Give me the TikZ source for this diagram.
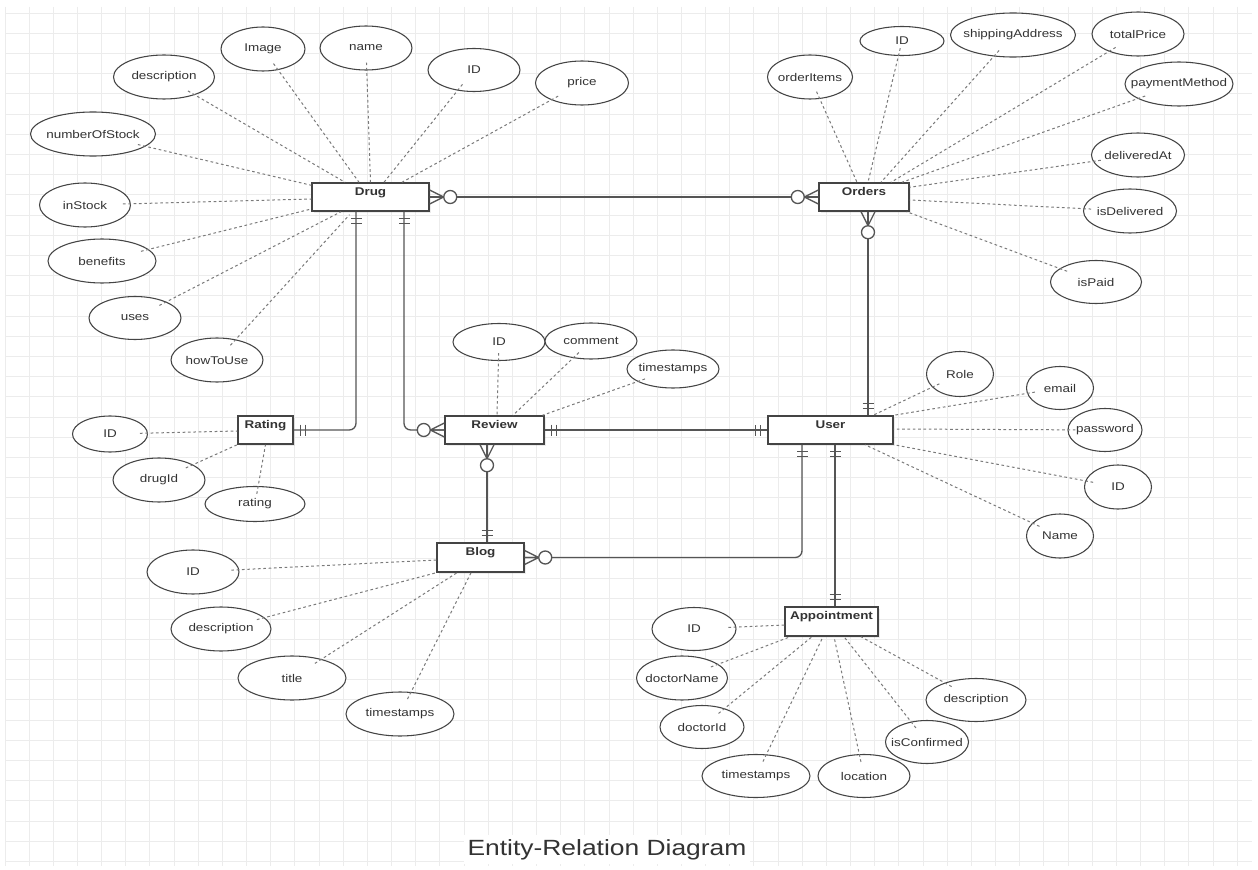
\documentclass[tikz,border=0pt]{standalone}
\usepackage{fontspec}
\setmainfont{Liberation Sans}[FakeStretch=1.2]
\usetikzlibrary{shapes.geometric,shadows}
\definecolor{gridc}{HTML}{ECECEC}
\definecolor{linec}{HTML}{555555}
\definecolor{boxc}{HTML}{444444}
\definecolor{txtc}{HTML}{333333}
\definecolor{dashc}{HTML}{7A7A7A}
\newcommand{\zbox}[1]{\makebox[0pt]{#1}}
\newcommand{\mkmany}[2]{\begin{scope}[shift={(#1)},rotate=#2]\draw[rel] (0,-7) -- (14,0) -- (0,7) (0,0) -- (14,0);\end{scope}}
\newcommand{\mkzero}[2]{\begin{scope}[shift={(#1)},rotate=#2]\draw[rel,fill=white] (20.5,0) circle[radius=6.5];\end{scope}}
\newcommand{\mkone}[2]{\begin{scope}[shift={(#1)},rotate=#2]\draw[rel] (7,-5.5) -- (7,5.5) (12,-5.5) -- (12,5.5);\end{scope}}
\tikzset{
  rel/.style={draw=linec, line width=1pt},
  sz/.style 2 args={minimum width=#1*0.75pt, minimum height=#2*0.75pt},
  ent/.style={rectangle, draw=boxc, line width=1.1pt, fill=white, inner sep=0pt,
    drop shadow={opacity=0.15, shadow xshift=1.3pt, shadow yshift=-1.3pt}},
  elab/.style={font=\bfseries\fontsize{8.4}{10}\selectfont, text=txtc, anchor=base, yshift=-10.2pt},
  attr/.style={ellipse, draw=boxc, line width=0.8pt, fill=white, inner sep=0pt,
    font=\fontsize{8.4}{10}\selectfont, text=txtc},
  aln/.style={draw=dashc, line width=0.75pt, dash pattern=on 2pt off 2pt, shorten <=-6pt},
  ttl/.style={font=\fontsize{16.5}{20}\selectfont, text=txtc, fill=white, inner sep=3pt, anchor=base}
}
\begin{document}
\begin{tikzpicture}[x=0.75pt,y=-0.75pt]
\useasboundingbox (0,0) rectangle (1258,870);
\fill[white] (0,0) rectangle (1258,870);
% grid
\foreach \i in {0,...,51} \draw[gridc, line width=0.7pt] ({5+\i*24.16},7) -- ({5+\i*24.16},866);
\foreach \j in {0,...,42} \draw[gridc, line width=0.7pt] (5,{13+\j*20.2}) -- (1252,{13+\j*20.2});

% entities
\node[ent,sz={117}{28},label={[elab]north:Drug}] (drug) at (370.5,197) {};
\node[ent,sz={90}{28},label={[elab]north:Orders}] (orders) at (864,197) {};
\node[ent,sz={55}{28},label={[elab]north:Rating}] (rating) at (265.5,430) {};
\node[ent,sz={99}{28},label={[elab]north:Review}] (review) at (494.5,430) {};
\node[ent,sz={125}{28},label={[elab]north:User}] (user) at (830.5,430) {};
\node[ent,sz={87}{29},label={[elab]north:Blog}] (blog) at (480.5,557.5) {};
\node[ent,sz={93}{29},label={[elab]north:Appointment}] (appt) at (831.5,621.5) {};

% Drug attributes
\node[attr,sz={84}{44}] (img) at (263,49) {\zbox{Image}};
\node[attr,sz={92}{44}] (dname) at (366,48) {\zbox{name}};
\node[attr,sz={92}{43}] (did) at (474,70) {\zbox{ID}};
\node[attr,sz={93}{44}] (price) at (582,83) {\zbox{price}};
\node[attr,sz={101}{44}] (ddesc) at (164,77) {\zbox{description}};
\node[attr,sz={125}{44}] (nos) at (93,134) {\zbox{numberOfStock}};
\node[attr,sz={91}{44}] (ins) at (85,205) {\zbox{inStock}};
\node[attr,sz={108}{44}] (ben) at (102,261) {\zbox{benefits}};
\node[attr,sz={92}{43}] (uses) at (135,318) {\zbox{uses}};
\node[attr,sz={92}{44}] (htu) at (217,360) {\zbox{howToUse}};

% Orders attributes
\node[attr,sz={85}{44}] (oi) at (810,77) {\zbox{orderItems}};
\node[attr,sz={84}{29}] (oid) at (902,41) {\zbox{ID}};
\node[attr,sz={125}{44}] (ship) at (1013,35) {\zbox{shippingAddress}};
\node[attr,sz={92}{44}] (tp) at (1138,34) {\zbox{totalPrice}};
\node[attr,sz={108}{44}] (pm) at (1179,84) {\zbox{paymentMethod}};
\node[attr,sz={93}{44}] (da) at (1138,155) {\zbox{deliveredAt}};
\node[attr,sz={93}{44}] (idl) at (1130,211) {\zbox{isDelivered}};
\node[attr,sz={91}{43}] (ip) at (1096,282) {\zbox{isPaid}};

% Review attributes
\node[attr,sz={92}{37}] (rid) at (499,342) {\zbox{ID}};
\node[attr,sz={92}{36}] (com) at (591,341) {\zbox{comment}};
\node[attr,sz={92}{38}] (rts) at (673,369) {\zbox{timestamps}};

% User attributes
\node[attr,sz={67}{45}] (role) at (960,374) {\zbox{Role}};
\node[attr,sz={67}{43}] (email) at (1060,388) {\zbox{email}};
\node[attr,sz={74}{43}] (pw) at (1105,430) {\zbox{password}};
\node[attr,sz={67}{44}] (uid) at (1118,487) {\zbox{ID}};
\node[attr,sz={67}{44}] (uname) at (1060,536) {\zbox{Name}};

% Rating attributes
\node[attr,sz={75}{36}] (rtid) at (110,434) {\zbox{ID}};
\node[attr,sz={92}{44}] (drid) at (159,480) {\zbox{drugId}};
\node[attr,sz={100}{35}] (rat) at (255,504) {\zbox{rating}};

% Blog attributes
\node[attr,sz={92}{44}] (bid) at (193,572) {\zbox{ID}};
\node[attr,sz={100}{44}] (bdesc) at (221,629) {\zbox{description}};
\node[attr,sz={108}{44}] (btitle) at (292,678) {\zbox{title}};
\node[attr,sz={108}{44}] (bts) at (400,714) {\zbox{timestamps}};

% Appointment attributes
\node[attr,sz={84}{43}] (aid) at (694,629) {\zbox{ID}};
\node[attr,sz={91}{44}] (dn) at (682,678) {\zbox{doctorName}};
\node[attr,sz={84}{43}] (adid) at (702,727) {\zbox{doctorId}};
\node[attr,sz={108}{43}] (ats) at (756,776) {\zbox{timestamps}};
\node[attr,sz={92}{43}] (loc) at (864,776) {\zbox{location}};
\node[attr,sz={83}{43}] (ic) at (927,742) {\zbox{isConfirmed}};
\node[attr,sz={100}{43}] (adesc) at (976,700) {\zbox{description}};

% connector anchor points
\coordinate (dR) at ([shift={(-14.5,0)}]drug.south);
\coordinate (dV) at ([shift={(33.5,0)}]drug.south);
\coordinate (oS) at ([shift={(4,0)}]orders.south);
\coordinate (uN) at (oS |- user.north);
\coordinate (rS) at ([shift={(-7.5,0)}]review.south);
\coordinate (bN) at (rS |- blog.north);
\coordinate (uB) at ([shift={(-28.5,0)}]user.south);
\coordinate (uA) at ([shift={(4.5,0)}]user.south);
\coordinate (aN) at (uA |- appt.north);

% relationships
\draw[rel] (drug.east) -- (orders.west);
\draw[rel] (oS) -- (uN);
\draw[rel,rounded corners=5pt] (dR) |- (rating.east);
\draw[rel,rounded corners=5pt] (dV) |- (review.west);
\draw[rel] (review.east) -- (user.west);
\draw[rel] (rS) -- (bN);
\draw[rel,rounded corners=5pt] (blog.east) -| (uB);
\draw[rel] (uA) -- (aN);

% markers
\mkmany{drug.east}{0} \mkzero{drug.east}{0}
\mkmany{orders.west}{180} \mkzero{orders.west}{180}
\mkmany{oS}{-90} \mkzero{oS}{-90}
\mkone{uN}{90}
\mkone{dR}{-90}
\mkone{rating.east}{0}
\mkone{dV}{-90}
\mkmany{review.west}{180} \mkzero{review.west}{180}
\mkone{review.east}{0}
\mkone{user.west}{180}
\mkmany{rS}{-90} \mkzero{rS}{-90}
\mkone{bN}{90}
\mkmany{blog.east}{0} \mkzero{blog.east}{0}
\mkone{uB}{-90}
\mkone{uA}{-90}
\mkone{aN}{90}

% attribute links: Drug
\draw[aln] (ddesc) -- ([shift={(-25.5,0)}]drug.north);
\draw[aln] (img) -- ([shift={(-11.5,0)}]drug.north);
\draw[aln] (dname) -- (drug.north);
\draw[aln] (did) -- ([shift={(13.5,0)}]drug.north);
\draw[aln] (price) -- ([shift={(31.5,0)}]drug.north);
\draw[aln] (nos) -- ([shift={(0,3)}]drug.north west);
\draw[aln] (ins) -- ([shift={(0,2)}]drug.west);
\draw[aln] (ben) -- ([shift={(0,12)}]drug.west);
\draw[aln] (uses) -- ([shift={(-29.5,0)}]drug.south);
\draw[aln] (htu) -- ([shift={(-21,3)}]drug.south);
% Orders
\draw[aln] (oi) -- ([shift={(-7,0)}]orders.north);
\draw[aln] (oid) -- ([shift={(4,0)}]orders.north);
\draw[aln] (ship) -- ([shift={(17,0)}]orders.north);
\draw[aln] (tp) -- ([shift={(27,0)}]orders.north);
\draw[aln] (pm) -- ([shift={(38,0)}]orders.north);
\draw[aln] (da) -- ([shift={(0,5)}]orders.north east);
\draw[aln] (idl) -- ([shift={(0,3)}]orders.east);
\draw[aln] (ip) -- ([shift={(-3,0)}]orders.south east);
% Review
\draw[aln] (rid) -- ([shift={(2.5,0)}]review.north);
\draw[aln] (com) -- ([shift={(18.5,0)}]review.north);
\draw[aln] (rts) -- ([shift={(48,0)}]review.north);
% Rating
\draw[aln] (rtid) -- ([shift={(0,1)}]rating.west);
\draw[aln] (drid) -- (rating.south west);
\draw[aln] (rat) -- (rating.south);
% Blog
\draw[aln] (bid) -- ([shift={(0,2.5)}]blog.west);
\draw[aln] (bdesc) -- (blog.south west);
\draw[aln] (btitle) -- ([shift={(-23.5,0)}]blog.south);
\draw[aln] (bts) -- ([shift={(-9.5,0)}]blog.south);
% User
\draw[aln] (role) -- ([shift={(42.5,0)}]user.north);
\draw[aln] (email) -- (user.north east);
\draw[aln] (pw) -- ([shift={(0,-1)}]user.east);
\draw[aln] (uid) -- (user.south east);
\draw[aln] (uname) -- ([shift={(34.5,0)}]user.south);
% Appointment
\draw[aln] (aid) -- ([shift={(0,3.5)}]appt.west);
\draw[aln] (dn) -- ([shift={(6,0)}]appt.south west);
\draw[aln] (adid) -- ([shift={(-19.5,0)}]appt.south);
\draw[aln] (ats) -- ([shift={(-8.5,0)}]appt.south);
\draw[aln] (loc) -- ([shift={(2.5,0)}]appt.south);
\draw[aln] (ic) -- ([shift={(12.5,0)}]appt.south);
\draw[aln] (adesc) -- ([shift={(29.5,0)}]appt.south);

% title
\node[ttl] (title) at (607,855) {Entity-Relation Diagram};
\end{tikzpicture}
\end{document}
